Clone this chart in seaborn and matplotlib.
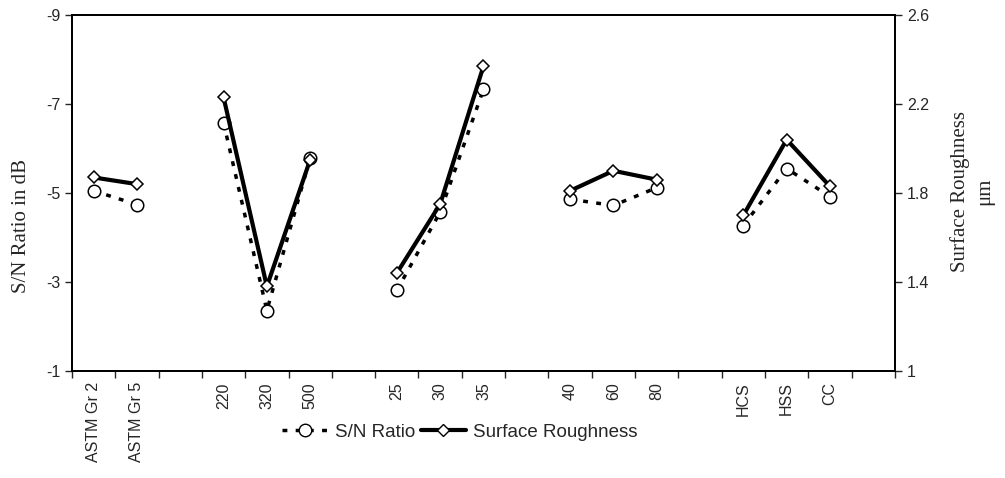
import numpy as np
import pandas as pd
import matplotlib
matplotlib.use("Agg")
import matplotlib.pyplot as plt
from matplotlib.lines import Line2D
import seaborn as sns

# categories (empty string = spacer slot between factor groups)
categories = ["ASTM Gr 2", "ASTM Gr 5", "",
              "220", "320", "500", "",
              "25", "30", "35", "",
              "40", "60", "80", "",
              "HCS", "HSS", "CC", ""]
groups = [0, 0, -1, 1, 1, 1, -1, 2, 2, 2, -1, 3, 3, 3, -1, 4, 4, 4, -1]

sn_ratio = [-5.05, -4.74, np.nan,
            -6.58, -2.36, -5.79, np.nan,
            -2.81, -4.57, -7.33, np.nan,
            -4.86, -4.72, -5.12, np.nan,
            -4.27, -5.55, -4.92, np.nan]
roughness = [1.87, 1.84, np.nan,
             2.23, 1.38, 1.95, np.nan,
             1.44, 1.75, 2.37, np.nan,
             1.81, 1.90, 1.86, np.nan,
             1.70, 2.04, 1.83, np.nan]

left_ticks = [-9, -7, -5, -3, -1]
right_ticks = [1, 1.4, 1.8, 2.2, 2.6]

df = pd.DataFrame({"pos": np.arange(len(categories)) + 0.5,
                   "group": groups, "sn": sn_ratio, "sr": roughness})
df = df[df["group"] >= 0]

sns.set_style("ticks")
plt.rcParams["font.family"] = ["Liberation Sans", "DejaVu Sans"]
serif = ["Liberation Serif", "DejaVu Serif"]

fig = plt.figure(figsize=(10.05, 4.78), dpi=100)
ax = fig.add_axes([0.0716, 0.2238, 0.8189, 0.7448])
ax2 = ax.twinx()

sns.lineplot(data=df, x="pos", y="sn", units="group", estimator=None,
             color="black", lw=2.5, linestyle=(0, (1.4, 2.4)),
             marker="o", markersize=9, markerfacecolor="white",
             markeredgecolor="black", markeredgewidth=1.1, ax=ax)
sns.lineplot(data=df, x="pos", y="sr", units="group", estimator=None,
             color="black", lw=3.0, marker="D", markersize=6.5,
             markerfacecolor="white", markeredgecolor="black",
             markeredgewidth=1.1, ax=ax2)

ax.set_xlim(0, len(categories))
ax.set_ylim(-1, -9)
ax2.set_ylim(1, 2.6)

ax.set_xticks(np.arange(len(categories) + 1))
ax.set_xticklabels([])
ax.set_xticks(np.arange(len(categories)) + 0.5, minor=True)
ax.set_xticklabels(categories, minor=True, rotation=90, fontsize=11.5)
ax.tick_params(axis="x", which="minor", length=0, pad=8)
ax.tick_params(axis="x", which="major", length=5, width=1, direction="out")

ax.set_yticks(left_ticks)
ax.set_yticklabels([str(t) for t in left_ticks], fontsize=11.5)
ax.tick_params(axis="y", length=5, width=1, direction="out")
ax2.set_yticks(right_ticks)
ax2.set_yticklabels(["1", "1.4", "1.8", "2.2", "2.6"], fontsize=11.5)
ax2.tick_params(axis="y", length=5, width=1, direction="out")

ax.set_xlabel("")
ax.set_ylabel("")
ax2.set_ylabel("")
fig.text(21 / 1005, 1 - 226 / 478, "S/N Ratio in dB", rotation=90,
         ha="center", va="center", fontsize=15, family=serif)
fig.text(972 / 1005, 1 - 191 / 478, "Surface Roughness\nμm", rotation=90,
         ha="center", va="center", fontsize=15, family=serif,
         multialignment="center", linespacing=1.35)

for a in (ax, ax2):
    for s in a.spines.values():
        s.set_visible(True)
        s.set_linewidth(1.3)
        s.set_color("black")

handles = [Line2D([], [], color="black", lw=2.5, linestyle=(0, (1.4, 2.4)),
                  marker="o", markersize=9, markerfacecolor="white",
                  markeredgecolor="black"),
           Line2D([], [], color="black", lw=3.0, marker="D", markersize=6.5,
                  markerfacecolor="white", markeredgecolor="black")]
fig.legend(handles, ["S/N Ratio", "Surface Roughness"], loc="center",
           bbox_to_anchor=(460 / 1005, 1 - 432 / 478), ncol=2, frameon=False,
           fontsize=13.5, handlelength=2.4, handletextpad=0.4,
           columnspacing=0.3)

fig.savefig("out.png", dpi=100)
